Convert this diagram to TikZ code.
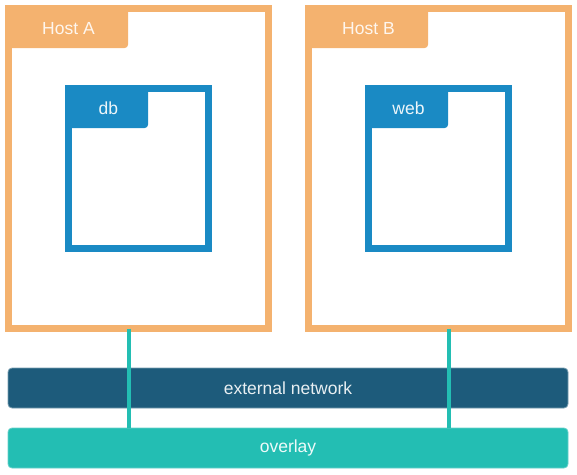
\documentclass[tikz,border=0pt]{standalone}
\usepackage{fontspec}
\setmainfont{Liberation Sans}
\usetikzlibrary{positioning}
\definecolor{hostorange}{HTML}{F4B26F}
\definecolor{boxblue}{HTML}{1A8AC4}
\definecolor{extblue}{HTML}{1D5B7B}
\definecolor{overteal}{HTML}{23BEB3}
\tikzset{
  host/.style={draw=hostorange, line width=7pt, minimum width=260pt, minimum height=320pt, inner sep=0pt, outer sep=0pt},
  hosttab/.style={fill=hostorange, text=white!88!hostorange, rounded corners=4pt, minimum width=119.5pt, minimum height=39.5pt, inner sep=0pt, anchor=north west},
  cont/.style={draw=boxblue, line width=7pt, minimum width=140pt, minimum height=160pt, inner sep=0pt, outer sep=0pt},
  conttab/.style={fill=boxblue, text=white!92!boxblue, rounded corners=4pt, minimum width=79.5pt, minimum height=39.5pt, inner sep=0pt, anchor=north west},
  net/.style={rounded corners=4pt, minimum width=560pt, minimum height=40pt, inner sep=0pt, line width=0.8pt},
  link/.style={draw=overteal, line width=4pt}
}
\begin{document}
\begin{tikzpicture}[x=1pt, y=-1pt, font=\fontsize{17.5}{21}\selectfont]
  \useasboundingbox (0,0) rectangle (577,474);
  % hosts
  \node[host] (hA) at (138.5,168.5) {};
  \node[host] (hB) at (438.5,168.5) {};
  \node[hosttab] (tA) at (hA.north west) {Host A};
  \node[hosttab] (tB) at (hB.north west) {Host B};
  % containers
  \node[cont] (db) at (hA.center) {};
  \node[cont] (web) at (hB.center) {};
  \node[conttab] (tdb) at (db.north west) {db};
  \node[conttab] (tweb) at (web.north west) {web};
  % networks
  \node[net, fill=extblue, draw=extblue!60!white, text=white!90!extblue] (ext) at (288,388) {external network};
  \node[net, fill=overteal, draw=overteal!70!white, text=white!92!overteal] (ov) at (288,448) {overlay};
  % links
  \draw[link] ([xshift=-10pt]hA.south) -- ([xshift=-10pt]hA.south |- ov.north);
  \draw[link] ([xshift=10.5pt]hB.south) -- ([xshift=10.5pt]hB.south |- ov.north);
\end{tikzpicture}
\end{document}
